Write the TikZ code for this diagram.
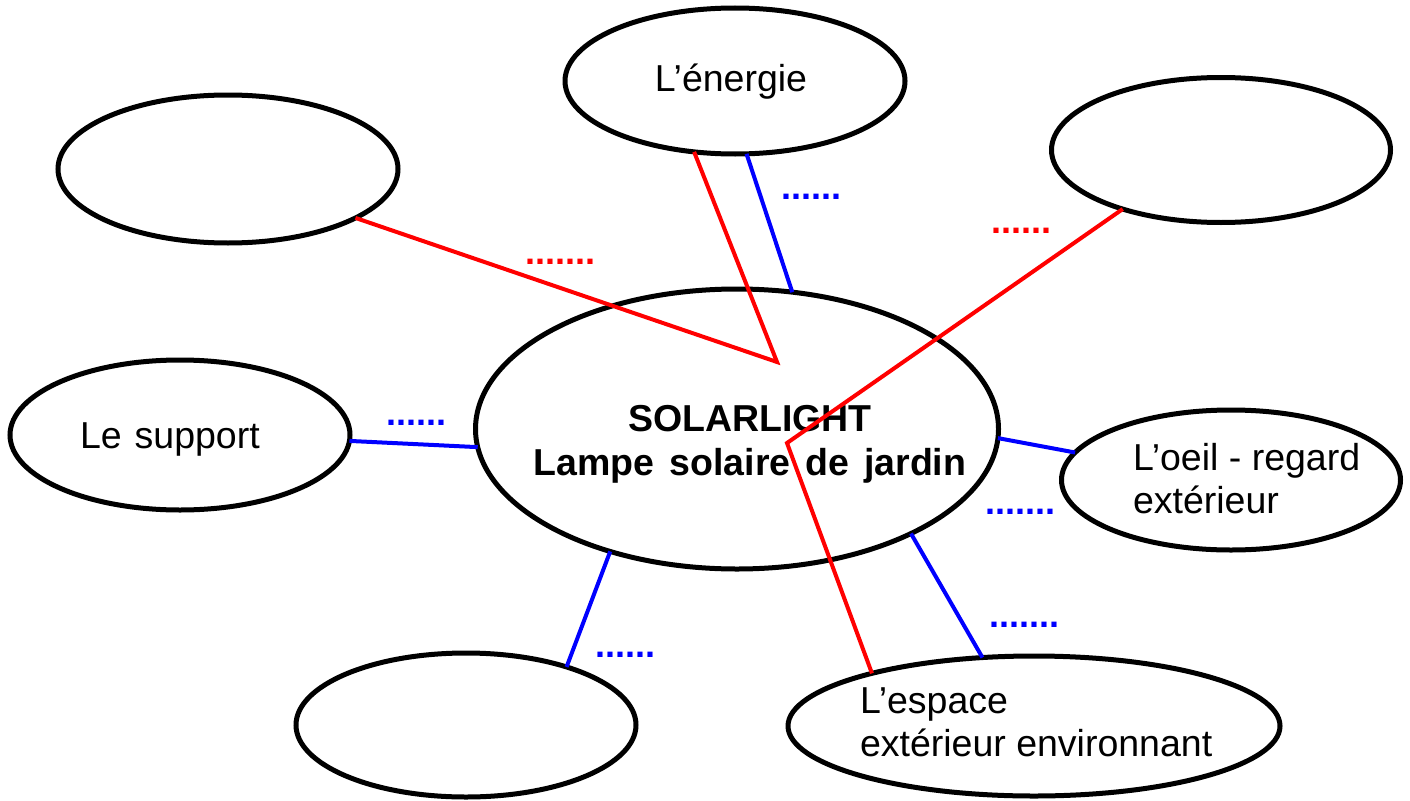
\documentclass[tikz,border=0pt]{standalone}
\usepackage{fontspec}
\setmainfont{Liberation Sans}
\usetikzlibrary{shapes.geometric}
\begin{document}
\begin{tikzpicture}[x=1pt,y=-1pt,
  bubble/.style={ellipse,draw=black,line width=5pt,inner sep=0pt,outer sep=0pt},
  redline/.style={draw=red,line width=4pt,line join=miter},
  blueline/.style={draw=blue,line width=4pt},
  txt/.style={inner sep=0pt,outer sep=0pt,font=\fontsize{37.5}{44}\selectfont},
  btxt/.style={txt,font=\fontsize{37.5}{44}\selectfont\bfseries},
  rdots/.style={inner sep=0pt,anchor=base west,text=red,font=\fontsize{36}{44}\selectfont\bfseries},
  bdots/.style={rdots,text=blue}]
\useasboundingbox (0,0) rectangle (1410,800);
% ellipses
\node[bubble,minimum width=340pt,minimum height=148pt] (tl) at (228,169) {};
\node[bubble,minimum width=340pt,minimum height=146pt] (en) at (735,81) {};
\node[bubble,minimum width=339pt,minimum height=145pt] (tr) at (1221,150) {};
\node[bubble,minimum width=340pt,minimum height=150pt] (su) at (180,435) {};
\node[bubble,minimum width=523pt,minimum height=280pt] (ce) at (737,429) {};
\node[bubble,minimum width=339pt,minimum height=140pt] (oe) at (1231,480) {};
\node[bubble,minimum width=340pt,minimum height=144pt] (bl) at (466,725) {};
\node[bubble,minimum width=492pt,minimum height=140pt] (es) at (1034,726) {};
% texts
\node[txt,anchor=base] (tEn) at (731,91) {L’énergie};
\node[txt,anchor=base west] (tSu) at (80,448) {Le\hspace{13pt}support};
\node[btxt,anchor=base] (tC1) at (750,431) {SOLARLIGHT};
\node[btxt,anchor=base] (tC2) at (750,475) {Lampe\hspace{15pt}solaire\hspace{15pt}de\hspace{15pt}jardin};
\node[txt,anchor=base west] (tO1) at (1133,470) {L’oeil - regard};
\node[txt,anchor=base west] (tO2) at (1133,513) {extérieur};
\node[txt,anchor=base west] (tE1) at (860,713) {L’espace};
\node[txt,anchor=base west] (tE2) at (860,756) {extérieur environnant};
% connector vertices
\coordinate (v1) at (777,362);
\coordinate (v2) at (787,443);
% connectors
\draw[redline] (tl.-21) -- (v1) -- (en.-120);
\draw[blueline] (en.-81) -- (ce.68);
\draw[redline] (tr.-149) -- (v2) -- (es.162.5);
\draw[blueline] (su.-2.4) -- (ce.-176);
\draw[blueline] (ce.-2.8) -- (oe.170);
\draw[blueline] (ce.-136) -- (bl.30);
\draw[blueline] (ce.-31) -- (es.127);
% dotted labels
\node[rdots] (d1) at (525,264) {.......};
\node[bdots] (d2) at (781,199) {......};
\node[rdots] (d3) at (991,233) {......};
\node[bdots] (d4) at (386,425) {......};
\node[bdots] (d5) at (985,514) {.......};
\node[bdots] (d6) at (595,657) {......};
\node[bdots] (d7) at (989,627) {.......};
\end{tikzpicture}
\end{document}
